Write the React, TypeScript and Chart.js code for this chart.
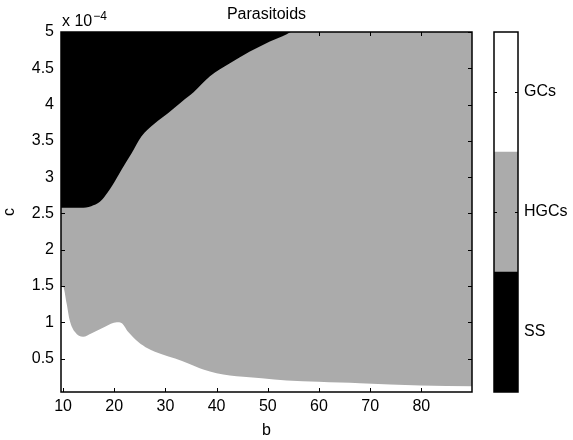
import React, { useEffect, useRef } from "react";
import { Chart, registerables } from "chart.js";

Chart.register(...registerables);

// Axis ranges (c is in units of 1e-4)
const X_MIN = 9.6;
const X_MAX = 89.9;
const Y_MIN = 0.04;
const Y_MAX = 5;
const X_TICKS = [10, 20, 30, 40, 50, 60, 70, 80];
const Y_TICKS = [0.5, 1, 1.5, 2, 2.5, 3, 3.5, 4, 4.5, 5];

// Upper boundary of the SS (black) region
const SS_B = [X_MIN, 13.5, 15.5, 17.2, 18.2, 20.1, 21.4, 23.4, 25.3, 27.9, 30.5, 33.2, 35.5, 38.7, 42.6, 46.5, 50.4, 53.7, 54.5];
const SS_C = [2.58, 2.58, 2.6, 2.66, 2.74, 2.94, 3.1, 3.33, 3.56, 3.74, 3.88, 4.04, 4.17, 4.39, 4.57, 4.73, 4.87, 4.97, 5.0];

// Lower boundary: GCs (white) region below it
const GC_B = [X_MIN, 10.0, 10.7, 11.3, 12.3, 13.9, 15.6, 18.2, 20.5, 21.4, 22.7, 24.7, 26.6, 29.3, 31.9, 34.6, 37.4, 40.0, 45.2, 48.8, 53.7, 59.9, 64.1, 68.0, 79.8, X_MAX];
const GC_C = [1.49, 1.49, 1.26, 1.03, 0.87, 0.8, 0.85, 0.94, 1.0, 0.99, 0.87, 0.73, 0.64, 0.56, 0.5, 0.43, 0.35, 0.3, 0.25, 0.23, 0.2, 0.18, 0.17, 0.16, 0.13, 0.12];

// Colorbar
const CB_LABELS = ["SS", "HGCs", "GCs"];
const CB_VALUES = [1, 1, 1];
const CB_TICKS = [0.5, 1.5, 2.5];
const CB_COLORS = ["#000000", "#ababab", "#ffffff"];

const FONT = "'Liberation Sans', Arial, Helvetica, sans-serif";
const GRAY = "#ababab";

const mainFrame = {
  id: "mainFrame",
  afterDraw(chart: any) {
    const { ctx, chartArea: a, scales } = chart;
    const xs = scales.x;
    const ys = scales.y;
    ctx.save();
    ctx.strokeStyle = "#000";
    ctx.lineWidth = 1;
    const tl = 4;
    ctx.beginPath();
    X_TICKS.forEach((v) => {
      const px = Math.round(xs.getPixelForValue(v)) + 0.5;
      ctx.moveTo(px, a.bottom);
      ctx.lineTo(px, a.bottom - tl);
      ctx.moveTo(px, a.top);
      ctx.lineTo(px, a.top + tl);
    });
    Y_TICKS.forEach((v) => {
      const py = Math.round(ys.getPixelForValue(v)) + 0.5;
      ctx.moveTo(a.left, py);
      ctx.lineTo(a.left + tl, py);
      ctx.moveTo(a.right, py);
      ctx.lineTo(a.right - tl, py);
    });
    ctx.stroke();
    ctx.lineWidth = 1.5;
    ctx.strokeRect(a.left, a.top, a.right - a.left, a.bottom - a.top);

    ctx.fillStyle = "#000";
    ctx.font = "16px " + FONT;
    ctx.textAlign = "center";
    ctx.textBaseline = "middle";
    ctx.fillText("Parasitoids", (a.left + a.right) / 2, 15);

    ctx.textAlign = "left";
    ctx.textBaseline = "alphabetic";
    const base = "x 10";
    ctx.fillText(base, 62, 26);
    const w = ctx.measureText(base).width;
    ctx.font = "12px " + FONT;
    ctx.fillText("\u22124", 62 + w + 1, 20);
    ctx.restore();
  },
};

const cbFrame = {
  id: "cbFrame",
  afterDraw(chart: any) {
    const { ctx, chartArea: a, scales } = chart;
    const ys = scales.y;
    ctx.save();
    ctx.strokeStyle = "#000";
    ctx.lineWidth = 1;
    ctx.beginPath();
    CB_TICKS.forEach((v) => {
      const py = Math.round(ys.getPixelForValue(v)) + 0.5;
      ctx.moveTo(a.left, py);
      ctx.lineTo(a.left + 3, py);
      ctx.moveTo(a.right, py);
      ctx.lineTo(a.right - 3, py);
    });
    ctx.stroke();
    ctx.lineWidth = 1.5;
    ctx.strokeRect(a.left, a.top, a.right - a.left, a.bottom - a.top);
    ctx.restore();
  },
};

export default function App() {
  const mainRef = useRef<HTMLCanvasElement>(null);
  const cbRef = useRef<HTMLCanvasElement>(null);

  useEffect(() => {
    const font = { family: FONT, size: 16 };
    const main = new Chart(mainRef.current as HTMLCanvasElement, {
      type: "line",
      data: {
        datasets: [
          {
            label: "SS",
            data: SS_B.map((x, i) => ({ x, y: SS_C[i] })),
            fill: "end",
            backgroundColor: "#000000",
            borderColor: "#000000",
            borderWidth: 0,
            pointRadius: 0,
            cubicInterpolationMode: "monotone",
          },
          {
            label: "GCs",
            data: GC_B.map((x, i) => ({ x, y: GC_C[i] })),
            fill: "start",
            backgroundColor: "#ffffff",
            borderColor: "#ffffff",
            borderWidth: 0,
            pointRadius: 0,
            cubicInterpolationMode: "monotone",
          },
          {
            label: "HGCs",
            data: [
              { x: X_MIN, y: Y_MAX },
              { x: X_MAX, y: Y_MAX },
            ],
            fill: "start",
            backgroundColor: GRAY,
            borderColor: GRAY,
            borderWidth: 0,
            pointRadius: 0,
          },
        ],
      } as any,
      options: {
        responsive: false,
        animation: false,
        events: [],
        layout: { padding: { top: 32, right: 101, left: 0, bottom: 0 } },
        plugins: { legend: { display: false }, tooltip: { enabled: false } },
        scales: {
          x: {
            type: "linear",
            min: X_MIN,
            max: X_MAX,
            afterBuildTicks: (s: any) => {
              s.ticks = X_TICKS.map((v) => ({ value: v }));
            },
            afterFit: (s: any) => {
              s.height = 48;
            },
            grid: { display: false, drawTicks: false },
            border: { display: false },
            ticks: {
              padding: 5,
              color: "#000",
              font,
              maxRotation: 0,
              autoSkip: false,
              callback: (v: any) => String(v),
            },
            title: { display: true, text: "b", padding: 0, color: "#000", font },
          },
          y: {
            type: "linear",
            min: Y_MIN,
            max: Y_MAX,
            afterBuildTicks: (s: any) => {
              s.ticks = Y_TICKS.map((v) => ({ value: v }));
            },
            afterFit: (s: any) => {
              s.width = 61;
            },
            grid: { display: false, drawTicks: false },
            border: { display: false },
            ticks: {
              padding: 7,
              color: "#000",
              font,
              autoSkip: false,
              callback: (v: any) => String(v),
            },
            title: { display: true, text: "c", padding: 0, color: "#000", font },
          },
        },
      } as any,
      plugins: [mainFrame],
    });

    const cb = new Chart(cbRef.current as HTMLCanvasElement, {
      type: "bar",
      data: {
        labels: [""],
        datasets: CB_LABELS.map((l, i) => ({
          label: l,
          data: [CB_VALUES[i]],
          backgroundColor: CB_COLORS[i],
          borderWidth: 0,
          barPercentage: 1,
          categoryPercentage: 1,
        })),
      },
      options: {
        responsive: false,
        animation: false,
        events: [],
        layout: { padding: { top: 32, left: 494, bottom: 48, right: 0 } },
        plugins: { legend: { display: false }, tooltip: { enabled: false } },
        scales: {
          x: { display: false, stacked: true },
          y: {
            position: "right",
            stacked: true,
            min: 0,
            max: 3,
            afterBuildTicks: (s: any) => {
              s.ticks = CB_TICKS.map((v) => ({ value: v }));
            },
            afterFit: (s: any) => {
              s.width = 55;
            },
            grid: { display: false, drawTicks: false },
            border: { display: false },
            ticks: {
              padding: 6,
              color: "#000",
              font,
              callback: (_v: any, idx: number) => CB_LABELS[idx],
            },
          },
        },
      } as any,
      plugins: [cbFrame],
    });

    return () => {
      main.destroy();
      cb.destroy();
    };
  }, []);

  return (
    <div style={{ position: "fixed", left: 0, top: 0, width: 573, height: 440, background: "#fff" }}>
      <canvas ref={mainRef} width={573} height={440} style={{ position: "absolute", left: 0, top: 0 }} />
      <canvas ref={cbRef} width={573} height={440} style={{ position: "absolute", left: 0, top: 0 }} />
    </div>
  );
}
